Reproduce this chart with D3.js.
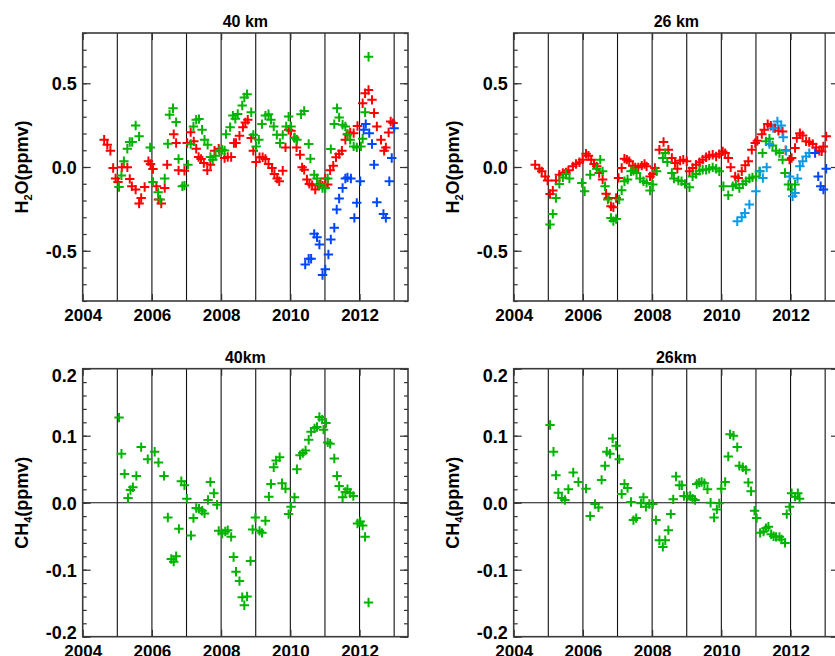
<!DOCTYPE html>
<html><head><meta charset="utf-8">
<script src="https://cdn.jsdelivr.net/npm/d3@7"></script>
<style>
body{margin:0;background:#fff}
svg{display:block}
text{font-family:"Liberation Sans",Arial,Helvetica,sans-serif;font-weight:bold;fill:#000}
</style>
</head><body>
<svg id="c" width="835" height="656"></svg>
<script>
// ---------------- data: [year, anomaly] ----------------
const h2o40Red = [[2004.62,0.163],[2004.71,0.133],[2004.80,0.097],[2004.88,-0.006],[2004.95,-0.069],[2005.02,-0.089],[2005.13,-0.002],[2005.29,-0.002],[2005.36,-0.071],[2005.42,-0.115],[2005.53,-0.135],[2005.63,-0.218],[2005.69,-0.185],[2005.79,-0.119],[2005.90,0.034],[2005.96,0.018],[2006.03,-0.012],[2006.13,-0.115],[2006.19,-0.194],[2006.27,-0.218],[2006.37,-0.125],[2006.44,0.014],[2006.63,0.196],[2006.70,0.143],[2006.77,-0.020],[2006.94,-0.022],[2007.02,0.143],[2007.12,0.208],[2007.21,0.153],[2007.28,0.109],[2007.35,0.060],[2007.42,0.048],[2007.50,0.024],[2007.60,-0.020],[2007.69,0.014],[2007.81,0.097],[2007.93,0.109],[2008.10,0.054],[2008.19,0.060],[2008.29,0.060],[2008.37,0.143],[2008.43,0.143],[2008.53,0.187],[2008.63,0.238],[2008.70,0.266],[2008.77,0.282],[2008.87,0.173],[2008.93,0.097],[2009.01,0.030],[2009.11,0.058],[2009.20,0.058],[2009.28,0.048],[2009.37,0.018],[2009.47,-0.006],[2009.54,-0.042],[2009.62,-0.069],[2009.68,-0.085],[2009.78,-0.022],[2009.86,0.117],[2009.95,0.222],[2010.02,0.216],[2010.12,0.176],[2010.18,0.117],[2010.28,0.073],[2010.34,-0.002],[2010.40,-0.016],[2010.48,-0.075],[2010.55,-0.101],[2010.63,-0.109],[2010.72,-0.135],[2010.79,-0.105],[2010.87,-0.101],[2010.93,-0.111],[2011.01,-0.069],[2011.08,-0.105],[2011.15,-0.020],[2011.24,0.008],[2011.32,0.058],[2011.41,0.077],[2011.49,0.097],[2011.59,0.163],[2011.65,0.196],[2011.73,0.206],[2011.83,0.202],[2011.94,0.245],[2012.09,0.381],[2012.16,0.440],[2012.26,0.460],[2012.36,0.401],[2012.42,0.322],[2012.50,0.242],[2012.62,0.163],[2012.71,0.097],[2012.76,0.117],[2012.84,0.206],[2012.90,0.272],[2012.97,0.262]];
const h2o40Green = [[2005.05,-0.119],[2005.12,-0.050],[2005.19,0.034],[2005.29,0.109],[2005.36,0.149],[2005.43,0.149],[2005.53,0.248],[2005.63,0.183],[2005.95,0.117],[2006.03,-0.089],[2006.18,-0.151],[2006.24,-0.194],[2006.37,-0.069],[2006.46,0.139],[2006.51,0.312],[2006.61,0.351],[2006.70,0.268],[2006.77,0.048],[2006.88,-0.115],[2006.94,-0.111],[2007.04,0.014],[2007.12,0.137],[2007.20,0.242],[2007.28,0.282],[2007.36,0.286],[2007.45,0.222],[2007.52,0.163],[2007.61,0.133],[2007.69,0.060],[2007.76,0.044],[2007.84,0.067],[2007.95,0.097],[2008.03,0.103],[2008.10,0.099],[2008.14,0.196],[2008.26,0.238],[2008.34,0.307],[2008.41,0.288],[2008.48,0.317],[2008.61,0.367],[2008.67,0.415],[2008.75,0.435],[2008.87,0.327],[2008.93,0.192],[2009.01,0.123],[2009.09,0.163],[2009.18,0.256],[2009.28,0.307],[2009.37,0.315],[2009.44,0.282],[2009.52,0.242],[2009.61,0.192],[2009.70,0.143],[2009.78,0.192],[2009.88,0.242],[2009.95,0.301],[2010.02,0.242],[2010.12,0.173],[2010.19,0.163],[2010.31,0.315],[2010.40,0.335],[2010.53,0.137],[2010.58,0.050],[2010.69,-0.046],[2010.77,-0.069],[2010.84,-0.105],[2010.93,-0.125],[2011.01,-0.125],[2011.08,-0.069],[2011.17,0.107],[2011.27,0.256],[2011.35,0.351],[2011.41,0.296],[2011.51,0.252],[2011.59,0.242],[2011.65,0.196],[2011.73,0.163],[2011.83,0.123],[2011.92,0.117],[2012.04,0.123],[2012.09,0.169],[2012.16,0.327],[2012.26,0.658]];
const h2o40Blue = [[2010.43,-0.582],[2010.53,-0.548],[2010.60,-0.548],[2010.69,-0.399],[2010.77,-0.419],[2010.84,-0.463],[2010.93,-0.645],[2011.01,-0.611],[2011.10,-0.522],[2011.17,-0.433],[2011.27,-0.363],[2011.34,-0.254],[2011.41,-0.188],[2011.51,-0.125],[2011.59,-0.069],[2011.65,-0.062],[2011.75,-0.069],[2011.85,-0.304],[2011.92,-0.214],[2012.02,-0.085],[2012.12,0.222],[2012.18,0.256],[2012.28,0.202],[2012.36,0.137],[2012.42,0.014],[2012.50,-0.210],[2012.69,-0.280],[2012.76,-0.304],[2012.86,-0.085],[2012.93,0.054],[2013.00,0.232]];
const h2o26Red = [[2004.62,0.014],[2004.74,-0.010],[2004.81,-0.026],[2004.91,-0.056],[2004.98,-0.081],[2005.05,-0.161],[2005.13,-0.141],[2005.22,-0.081],[2005.32,-0.046],[2005.42,-0.036],[2005.51,-0.032],[2005.58,-0.020],[2005.71,0.004],[2005.80,0.018],[2005.90,0.028],[2005.99,0.044],[2006.09,0.079],[2006.16,0.067],[2006.24,0.044],[2006.32,0.018],[2006.40,0.004],[2006.47,-0.036],[2006.57,-0.075],[2006.67,-0.159],[2006.74,-0.185],[2006.81,-0.234],[2006.88,-0.240],[2006.96,-0.185],[2007.03,-0.065],[2007.12,-0.006],[2007.20,0.050],[2007.27,0.044],[2007.34,0.034],[2007.44,0.008],[2007.51,-0.002],[2007.60,-0.002],[2007.70,0.008],[2007.78,0.018],[2007.84,0.004],[2007.94,-0.056],[2008.02,-0.042],[2008.08,-0.006],[2008.21,0.103],[2008.33,0.149],[2008.47,0.103],[2008.57,0.054],[2008.66,0.024],[2008.73,-0.010],[2008.81,0.038],[2008.90,0.044],[2009.00,0.034],[2009.08,-0.026],[2009.17,-0.006],[2009.27,0.014],[2009.37,0.028],[2009.46,0.044],[2009.56,0.058],[2009.65,0.069],[2009.75,0.073],[2009.85,0.063],[2009.94,0.077],[2010.04,0.093],[2010.11,0.083],[2010.20,0.054],[2010.27,-0.002],[2010.40,-0.056],[2010.49,-0.065],[2010.59,-0.026],[2010.69,0.010],[2010.78,0.034],[2010.88,0.103],[2010.98,0.143],[2011.04,0.157],[2011.17,0.196],[2011.24,0.222],[2011.34,0.256],[2011.43,0.246],[2011.55,0.232],[2011.65,0.216],[2011.77,0.212],[2011.86,0.100],[2011.97,0.044],[2012.03,0.054],[2012.13,0.113],[2012.18,0.173],[2012.27,0.202],[2012.35,0.188],[2012.45,0.153],[2012.54,0.149],[2012.64,0.137],[2012.74,0.117],[2012.83,0.097],[2012.90,0.093],[2012.95,0.123],[2013.03,0.183]];
const h2o26Green = [[2005.05,-0.343],[2005.13,-0.280],[2005.22,-0.185],[2005.32,-0.101],[2005.42,-0.062],[2005.51,-0.042],[2005.61,-0.069],[2005.97,-0.095],[2006.05,-0.145],[2006.21,-0.046],[2006.40,-0.010],[2006.50,0.044],[2006.57,-0.026],[2006.64,-0.115],[2006.72,-0.194],[2006.81,-0.304],[2006.88,-0.323],[2006.96,-0.310],[2007.05,-0.194],[2007.12,-0.139],[2007.20,-0.085],[2007.29,-0.075],[2007.39,-0.026],[2007.46,-0.022],[2007.55,-0.036],[2007.65,-0.069],[2007.75,-0.085],[2007.84,-0.095],[2007.94,-0.141],[2008.02,-0.105],[2008.13,-0.026],[2008.31,0.054],[2008.38,0.083],[2008.44,0.030],[2008.57,-0.036],[2008.63,-0.069],[2008.76,-0.081],[2008.85,-0.085],[2008.95,-0.101],[2009.08,-0.121],[2009.17,-0.056],[2009.27,-0.042],[2009.37,-0.022],[2009.46,-0.016],[2009.56,-0.016],[2009.65,-0.010],[2009.75,-0.002],[2009.85,-0.010],[2009.94,-0.026],[2010.06,-0.115],[2010.20,-0.169],[2010.33,-0.115],[2010.42,-0.105],[2010.52,-0.125],[2010.62,-0.101],[2010.71,-0.085],[2010.81,-0.069],[2010.90,-0.062],[2011.00,-0.056],[2011.10,-0.026],[2011.19,0.083],[2011.29,0.153],[2011.39,0.169],[2011.48,0.129],[2011.58,0.097],[2011.68,0.083],[2011.77,0.044],[2011.84,-0.036],[2011.94,-0.105],[2012.03,-0.135],[2012.13,-0.105]];
const h2o26LightBlue = [[2010.46,-0.324],[2010.59,-0.300],[2010.68,-0.274],[2010.81,-0.224],[2011.00,-0.145],[2011.12,-0.026],[2011.20,-0.066],[2011.31,-0.002],[2011.39,0.137],[2011.50,0.232],[2011.62,0.272],[2011.73,0.248],[2011.79,0.177],[2011.87,0.097],[2011.97,-0.056],[2012.06,-0.175],[2012.13,-0.155],[2012.20,-0.069],[2012.27,0.004],[2012.35,0.034],[2012.45,0.063],[2012.54,0.083]];
const h2o26Blue = [[2012.71,0.083],[2012.80,-0.056],[2012.87,-0.115],[2012.95,-0.135],[2013.03,-0.010]];
const ch4_40Green = [[2005.05,0.127],[2005.12,0.073],[2005.21,0.043],[2005.31,0.007],[2005.38,0.019],[2005.45,0.023],[2005.55,0.040],[2005.69,0.083],[2005.88,0.065],[2006.08,0.076],[2006.19,0.060],[2006.35,0.040],[2006.46,-0.022],[2006.56,-0.084],[2006.63,-0.088],[2006.70,-0.080],[2006.78,-0.039],[2006.85,0.032],[2006.94,0.026],[2007.01,0.006],[2007.13,-0.049],[2007.20,-0.023],[2007.28,-0.008],[2007.36,-0.009],[2007.45,-0.012],[2007.52,-0.016],[2007.62,0.004],[2007.69,0.031],[2007.79,0.014],[2007.88,-0.003],[2007.93,-0.042],[2008.03,-0.046],[2008.12,-0.043],[2008.19,-0.041],[2008.29,-0.051],[2008.36,-0.081],[2008.43,-0.103],[2008.53,-0.117],[2008.61,-0.141],[2008.67,-0.153],[2008.75,-0.140],[2008.85,-0.087],[2008.91,-0.040],[2008.99,-0.022],[2009.11,-0.042],[2009.18,-0.045],[2009.28,-0.027],[2009.38,0.009],[2009.44,0.028],[2009.52,0.053],[2009.59,0.063],[2009.69,0.068],[2009.76,0.029],[2009.86,0.021],[2009.95,-0.017],[2010.02,-0.006],[2010.12,0.008],[2010.19,0.050],[2010.28,0.071],[2010.36,0.074],[2010.44,0.078],[2010.53,0.094],[2010.60,0.106],[2010.70,0.111],[2010.77,0.113],[2010.84,0.128],[2010.92,0.124],[2010.96,0.109],[2011.03,0.119],[2011.08,0.090],[2011.15,0.088],[2011.27,0.066],[2011.35,0.040],[2011.41,0.025],[2011.51,0.008],[2011.59,0.016],[2011.65,0.020],[2011.73,0.014],[2011.82,0.010],[2011.94,-0.031],[2012.02,-0.028],[2012.09,-0.034],[2012.16,-0.051],[2012.26,-0.149]];
const ch4_26Green = [[2005.05,0.116],[2005.15,0.076],[2005.22,0.041],[2005.29,0.015],[2005.39,0.007],[2005.48,0.004],[2005.58,0.020],[2005.72,0.045],[2005.87,0.031],[2006.09,0.021],[2006.21,-0.020],[2006.35,-0.002],[2006.45,-0.007],[2006.54,0.034],[2006.64,0.055],[2006.69,0.076],[2006.78,0.073],[2006.86,0.096],[2006.96,0.085],[2007.05,0.065],[2007.12,0.013],[2007.20,0.028],[2007.29,0.022],[2007.39,0.001],[2007.46,-0.026],[2007.54,-0.023],[2007.68,-0.001],[2007.75,0.008],[2007.82,-0.006],[2007.92,-0.002],[2008.02,-0.002],[2008.11,-0.026],[2008.21,-0.056],[2008.31,-0.066],[2008.38,-0.056],[2008.47,-0.041],[2008.54,-0.017],[2008.61,0.005],[2008.69,0.039],[2008.79,0.026],[2008.86,0.026],[2008.92,0.010],[2009.02,0.009],[2009.10,0.010],[2009.17,0.006],[2009.24,0.004],[2009.29,0.028],[2009.36,0.030],[2009.43,0.031],[2009.51,0.029],[2009.60,0.020],[2009.69,0.000],[2009.79,-0.022],[2009.87,-0.010],[2009.94,-0.001],[2010.00,0.021],[2010.11,0.031],[2010.20,0.069],[2010.25,0.102],[2010.35,0.100],[2010.46,0.083],[2010.52,0.055],[2010.62,0.053],[2010.71,0.049],[2010.78,0.030],[2010.86,0.017],[2010.96,-0.012],[2011.02,-0.023],[2011.12,-0.045],[2011.22,-0.043],[2011.29,-0.038],[2011.36,-0.036],[2011.44,-0.047],[2011.51,-0.050],[2011.58,-0.051],[2011.68,-0.051],[2011.74,-0.055],[2011.84,-0.060],[2011.89,-0.017],[2011.97,-0.006],[2012.03,0.014],[2012.13,0.009],[2012.21,0.014],[2012.26,0.006]];

// ---------------- ticks / labels ----------------
const xTickLabels = [2004, 2006, 2008, 2010, 2012];
const xYearLines = [2005, 2006, 2007, 2008, 2009, 2010, 2011, 2012, 2013];
const h2oMajorTicks = [-0.5, 0.0, 0.5];
const ch4MajorTicks = [-0.2, -0.1, 0.0, 0.1, 0.2];
const titles = ["40 km", "26 km", "40km", "26km"];

const RED = "#ff0000", GREEN = "#00b400", BLUE = "#0046ff", LBLUE = "#0a9ae6";

const W = 325.3, H = 268;
const panels = [
  {x0: 82.7,  y0: 33,    dom: [-0.8, 0.8], major: h2oMajorTicks, minorStep: 0.1,
   series: [[h2o40Red, RED], [h2o40Green, GREEN], [h2o40Blue, BLUE]], zero: false, title: titles[0]},
  {x0: 513.7, y0: 33,    dom: [-0.8, 0.8], major: h2oMajorTicks, minorStep: 0.1,
   series: [[h2o26Red, RED], [h2o26Green, GREEN], [h2o26LightBlue, LBLUE], [h2o26Blue, BLUE]], zero: false, title: titles[1]},
  {x0: 82.7,  y0: 368.7, dom: [-0.2, 0.2], major: ch4MajorTicks, minorStep: 0.02,
   series: [[ch4_40Green, GREEN]], zero: true, title: titles[2]},
  {x0: 513.7, y0: 368.7, dom: [-0.2, 0.2], major: ch4MajorTicks, minorStep: 0.02,
   series: [[ch4_26Green, GREEN]], zero: true, title: titles[3]}
];

const svg = d3.select("#c");
const AX = "#333";
const plus = "M-4.7,0H4.7M0,-4.7V4.7";

panels.forEach((p, i) => {
  const x = d3.scaleLinear().domain([2004, 2013.4]).range([p.x0, p.x0 + W]);
  const y = d3.scaleLinear().domain(p.dom).range([p.y0 + H, p.y0]);
  const g = svg.append("g");

  g.append("clipPath").attr("id", "clip" + i).append("rect")
    .attr("x", p.x0).attr("y", p.y0).attr("width", W).attr("height", H);

  // vertical year lines
  g.selectAll(".vl").data(xYearLines).join("line")
    .attr("x1", d => x(d)).attr("x2", d => x(d))
    .attr("y1", p.y0).attr("y2", p.y0 + H)
    .attr("stroke", "#111").attr("stroke-width", 1.1);

  if (p.zero) {
    g.append("line").attr("x1", p.x0).attr("x2", p.x0 + W)
      .attr("y1", y(0)).attr("y2", y(0)).attr("stroke", "#111").attr("stroke-width", 1.1);
  }

  // points
  const pg = g.append("g").attr("clip-path", `url(#clip${i})`);
  p.series.forEach(([data, col]) => {
    pg.append("g").selectAll("path").data(data).join("path")
      .attr("d", plus)
      .attr("transform", d => `translate(${x(d[0])},${y(d[1])})`)
      .attr("stroke", col).attr("stroke-width", 2).attr("fill", "none");
  });

  // axes
  const n = Math.round((p.dom[1] - p.dom[0]) / p.minorStep);
  const minor = d3.range(n + 1).map(k => +(p.dom[0] + k * p.minorStep).toFixed(3));
  const fmt = d => d.toFixed(1);

  const styleAxis = sel => {
    sel.select(".domain").remove();
    sel.selectAll(".tick line").attr("stroke", AX).attr("stroke-width", 1.2);
    sel.selectAll("text").attr("font-family", '"Liberation Sans",Arial,sans-serif')
      .attr("font-weight", "bold").attr("fill", "#000");
  };

  g.append("g").attr("transform", `translate(${p.x0},0)`)
    .call(d3.axisLeft(y).tickValues(minor).tickSize(-4).tickFormat("")).call(styleAxis);
  g.append("g").attr("transform", `translate(${p.x0},0)`)
    .call(d3.axisLeft(y).tickValues(p.major).tickSize(-8).tickPadding(6).tickFormat(fmt))
    .call(styleAxis).selectAll("text").attr("font-size", 18)
    .attr("dy", d => d === p.dom[1] ? "0.72em" : d === p.dom[0] ? "0.08em" : "0.36em");
  g.append("g").attr("transform", `translate(${p.x0 + W},0)`)
    .call(d3.axisRight(y).tickValues(minor).tickSize(-4).tickFormat("")).call(styleAxis);
  g.append("g").attr("transform", `translate(${p.x0 + W},0)`)
    .call(d3.axisRight(y).tickValues(p.major).tickSize(-8).tickFormat("")).call(styleAxis);

  g.append("g").attr("transform", `translate(0,${p.y0 + H})`)
    .call(d3.axisBottom(x).tickValues(xTickLabels).tickSize(-7).tickPadding(8).tickFormat(d3.format("d")))
    .call(styleAxis).selectAll("text").attr("font-size", 17);
  g.append("g").attr("transform", `translate(0,${p.y0})`)
    .call(d3.axisTop(x).tickValues(xTickLabels).tickSize(-7).tickFormat("")).call(styleAxis);

  // frame
  g.append("rect").attr("x", p.x0).attr("y", p.y0).attr("width", W).attr("height", H)
    .attr("fill", "none").attr("stroke", "#3a3a3a").attr("stroke-width", 1.6);

  // title
  g.append("text").attr("x", p.x0 + W / 2).attr("y", p.y0 - 6)
    .attr("text-anchor", "middle").attr("font-size", 16).text(p.title);

  // y label
  const yl = g.append("text")
    .attr("transform", `translate(${p.x0 - 54.5},${p.y0 + H / 2}) rotate(-90)`)
    .attr("text-anchor", "middle").attr("font-size", 18);
  if (i < 2) {
    yl.append("tspan").text("H");
    yl.append("tspan").attr("font-size", 11).attr("dy", 4).text("2");
    yl.append("tspan").attr("dy", -4).text("O(ppmv)");
  } else {
    yl.append("tspan").text("CH");
    yl.append("tspan").attr("font-size", 11).attr("dy", 4).text("4");
    yl.append("tspan").attr("dy", -4).text("(ppmv)");
  }
});
</script>
</body></html>
